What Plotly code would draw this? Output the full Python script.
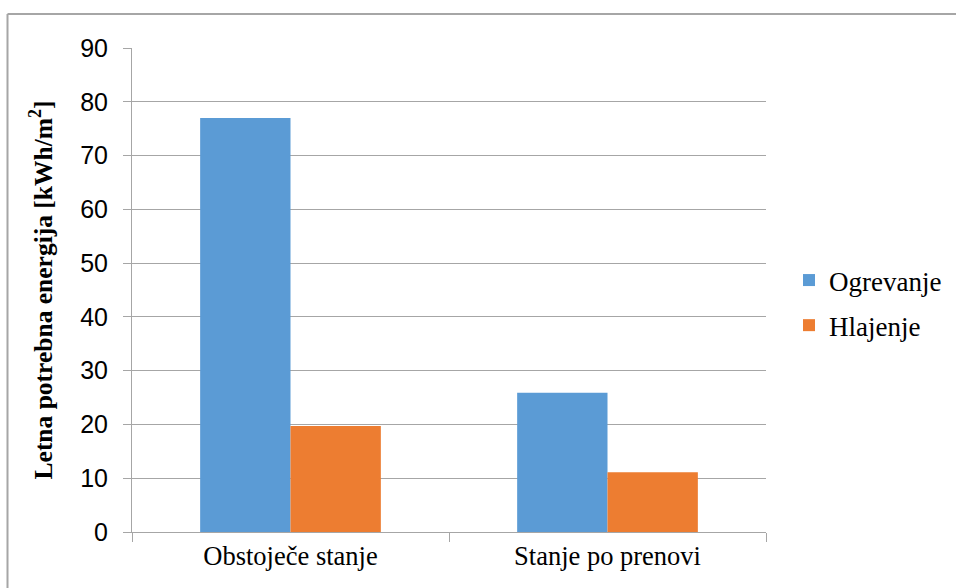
import plotly.graph_objects as go

categories = ["Obstoječe stanje", "Stanje po prenovi"]
ogrevanje = [77, 25.9]
hlajenje = [19.7, 11.1]
y_ticks = [0, 10, 20, 30, 40, 50, 60, 70, 80, 90]

grid_col = "#a6a6a6"

fig = go.Figure()
fig.add_bar(x=categories, y=ogrevanje, name="Ogrevanje", legendgroup="a",
            marker=dict(color="#5b9bd5", line=dict(width=0)))
fig.add_bar(x=categories, y=hlajenje, name="Hlajenje", legendgroup="b",
            marker=dict(color="#ed7d31", line=dict(width=0)))

L, R, T, B = 132, 766, 48, 532
W, H = 956, 588

def px(x):
    return (x - L) / (R - L)

def py(y):
    return (B - y) / (B - T)

fig.update_layout(
    width=W, height=H,
    margin=dict(l=L, r=W - R, t=T, b=H - B, autoexpand=False),
    paper_bgcolor="white", plot_bgcolor="white",
    barmode="group", bargap=0.43, bargroupgap=0,
    showlegend=True,
    legend=dict(x=px(789), y=py(256), xanchor="left", yanchor="top",
                font=dict(family="Liberation Serif", size=27, color="#000"),
                itemwidth=30, tracegroupgap=7, traceorder="grouped",
                itemsizing="constant"),
    xaxis=dict(type="category", showgrid=False, showline=True, linecolor=grid_col,
               linewidth=1, ticks="outside", tickson="boundaries", ticklen=9,
               tickcolor=grid_col,
               tickfont=dict(family="Liberation Serif", size=26.5, color="#000")),
    yaxis=dict(range=[0, 90], tickvals=y_ticks, showgrid=True, gridcolor=grid_col,
               gridwidth=1, showline=True, linecolor=grid_col, linewidth=1,
               ticks="outside", ticklen=8, tickcolor=grid_col, zeroline=False,
               ticklabelstandoff=10,
               tickfont=dict(family="Liberation Sans", size=25, color="#000"),
               title=dict(text="<b>Letna potrebna energija [kWh/m<sup>2</sup>]</b>",
                          font=dict(family="Liberation Serif", size=25.5, color="#000"),
                          standoff=20)),
    shapes=[
        dict(type="line", xref="paper", yref="paper", x0=px(7.5), x1=px(956),
             y0=py(14), y1=py(14), line=dict(color=grid_col, width=2)),
        dict(type="line", xref="paper", yref="paper", x0=px(7.5), x1=px(7.5),
             y0=py(14), y1=py(600), line=dict(color=grid_col, width=2)),
    ],
)

fig.write_html("out.html")
